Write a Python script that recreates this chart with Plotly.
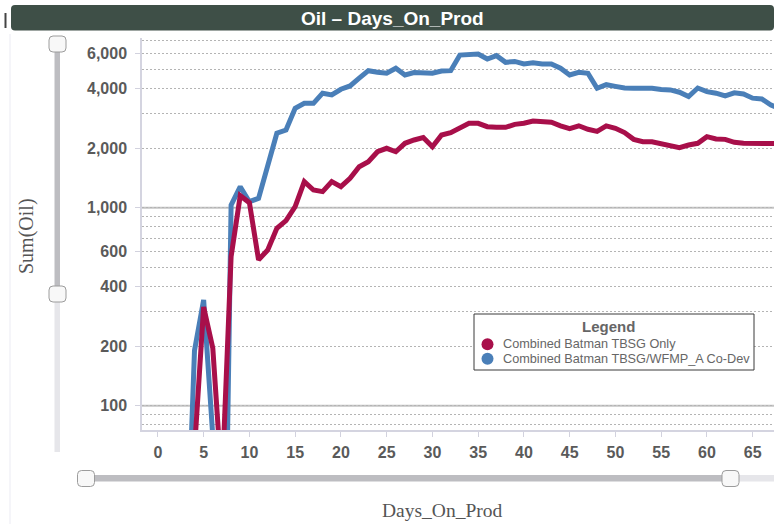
import plotly.graph_objects as go

# ---- data -------------------------------------------------------------
days_tbsg_only = list(range(4, 69))
oil_tbsg_only = [
    60, 315, 195, 40, 566, 1150, 1060, 545, 611, 787,
    860, 1012, 1353, 1228, 1205, 1353, 1276, 1407, 1610, 1707,
    1917, 1995, 1917, 2114, 2197, 2259, 2031, 2328, 2394, 2517,
    2668, 2668, 2565, 2545, 2545, 2636, 2668, 2741, 2720, 2700,
    2588, 2505, 2592, 2490, 2430, 2588, 2517, 2394, 2213, 2154,
    2154, 2114, 2051, 2010, 2072, 2114, 2285, 2224, 2213, 2138,
    2114, 2114, 2091, 2114, 2110,
]

days_codev = list(range(3, 69))
oil_codev = [
    10, 190, 342, 70, 1, 1030, 1276, 1072, 1115, 1663,
    2377, 2466, 3178, 3364, 3364, 3786, 3710, 3963, 4120, 4508,
    4920, 4830, 4775, 5060, 4680, 4810, 4775, 4775, 4900, 4920,
    5900, 5900, 5970, 5636, 5858, 5421, 5480, 5320, 5400, 5320,
    5320, 5060, 4680, 4830, 4775, 4010, 4180, 4100, 4020, 4010,
    4010, 4010, 3950, 3935, 3830, 3640, 4020, 3856, 3786, 3665,
    3800, 3750, 3574, 3540, 3300, 3150,
]

series_names = ["Combined Batman TBSG Only", "Combined Batman TBSG/WFMP_A Co-Dev"]
series_colors = ["#a80f4a", "#4a7fb8"]

x_ticks = [0, 5, 10, 15, 20, 25, 30, 35, 40, 45, 50, 55, 60, 65]
y_ticks = [100, 200, 400, 600, 1000, 2000, 4000, 6000]
y_tick_text = [f"{v:,}" for v in y_ticks]
y_minor = [80, 90, 300, 500, 700, 800, 900, 3000, 5000, 7000]
y_solid = [100, 1000]

# ---- page geometry ------------------------------------------------------
W, H = 774, 524
PL, PR, PT, PB = 142, 774, 38, 430


def px(x):
    return (x - PL) / (PR - PL)


def py(y):
    return (PB - y) / (PB - PT)


def rrect(w, h, r):
    x0, x1, y0, y1 = -w / 2, w / 2, -h / 2, h / 2
    return (f"M{x0 + r},{y0} L{x1 - r},{y0} Q{x1},{y0} {x1},{y0 + r} "
            f"L{x1},{y1 - r} Q{x1},{y1} {x1 - r},{y1} L{x0 + r},{y1} "
            f"Q{x0},{y1} {x0},{y1 - r} L{x0},{y0 + r} Q{x0},{y0} {x0 + r},{y0} Z")


def pixel_shape(cx, cy, path, fill, line_color=None, line_width=0, layer="above"):
    return dict(type="path", xref="paper", yref="paper",
                xsizemode="pixel", ysizemode="pixel",
                xanchor=px(cx), yanchor=py(cy), path=path,
                fillcolor=fill, layer=layer,
                line=dict(color=line_color or fill, width=line_width))


fig = go.Figure()

# co-dev series underneath, TBSG-only on top
fig.add_trace(go.Scatter(x=days_codev, y=oil_codev, mode="lines", name=series_names[1],
                         line=dict(color=series_colors[1], width=5), showlegend=False))
fig.add_trace(go.Scatter(x=days_tbsg_only, y=oil_tbsg_only, mode="lines", name=series_names[0],
                         line=dict(color=series_colors[0], width=5), showlegend=False))

shapes = []
# solid reference grid lines at the decades
for v in y_solid:
    shapes.append(dict(type="line", xref="paper", x0=0, x1=1, yref="y", y0=v, y1=v,
                       line=dict(color="#c4c4c4", width=2), layer="below"))

# title bar
shapes.append(pixel_shape(392.5, 17.75, rrect(763, 25.5, 4), "#3e4f47"))
shapes.append(dict(type="line", xref="paper", yref="paper",
                   x0=px(5.5), x1=px(5.5), y0=py(13), y1=py(28),
                   line=dict(color="#444444", width=2)))
shapes.append(dict(type="line", xref="paper", yref="paper",
                   x0=px(10), x1=px(10), y0=py(34), y1=py(524),
                   line=dict(color="#ebebf3", width=1)))

# vertical range slider
shapes.append(dict(type="rect", xref="paper", yref="paper",
                   x0=px(54.5), x1=px(60), y0=py(44), y1=py(294),
                   fillcolor="#bdbdc1", line=dict(width=0)))
shapes.append(dict(type="rect", xref="paper", yref="paper",
                   x0=px(54.5), x1=px(60), y0=py(294), y1=py(452),
                   fillcolor="#e6e6ea", line=dict(width=0)))
# horizontal range slider
shapes.append(dict(type="rect", xref="paper", yref="paper",
                   x0=px(86), x1=px(731), y0=py(475), y1=py(481.5),
                   fillcolor="#bdbdc1", line=dict(width=0)))
shapes.append(dict(type="rect", xref="paper", yref="paper",
                   x0=px(731), x1=px(774), y0=py(475), y1=py(481.5),
                   fillcolor="#e6e6ea", line=dict(width=0)))
for cx, cy in [(57.5, 44), (57.5, 294), (86, 478.5), (730.5, 478.5)]:
    shapes.append(pixel_shape(cx, cy, rrect(17, 16, 4), "#f8f8f8", "#9c9c9c", 1))

# legend box
shapes.append(dict(type="rect", xref="paper", yref="paper",
                   x0=px(474), x1=px(754), y0=py(314), y1=py(370),
                   fillcolor="white", line=dict(color="#3b3b3b", width=1), layer="above"))
legend_rows = [344.3, 358.8]
for name, color, cy in zip(series_names, series_colors, legend_rows):
    shapes.append(dict(type="circle", xref="paper", yref="paper",
                       xsizemode="pixel", ysizemode="pixel",
                       xanchor=px(487.5), yanchor=py(cy),
                       x0=-6, x1=6, y0=-6, y1=6,
                       fillcolor=color, line=dict(width=0), layer="above"))

annotations = [
    dict(text="<b>Oil – Days_On_Prod</b>", x=px(392.5), y=py(18), xref="paper", yref="paper",
         xanchor="center", yanchor="middle", showarrow=False,
         font=dict(family="Liberation Sans", size=19, color="white")),
    dict(text="Sum(Oil)", x=px(27), y=py(236), xref="paper", yref="paper",
         xanchor="center", yanchor="middle", showarrow=False, textangle=-90,
         font=dict(family="Liberation Serif", size=20, color="#555555")),
    dict(text="Days_On_Prod", x=px(442), y=py(510), xref="paper", yref="paper",
         xanchor="center", yanchor="middle", showarrow=False,
         font=dict(family="Liberation Serif", size=19.5, color="#555555")),
    dict(text="<b>Legend</b>", x=px(608), y=py(326), xref="paper", yref="paper",
         xanchor="center", yanchor="middle", showarrow=False,
         font=dict(family="Liberation Sans", size=15, color="#666666")),
]
for name, cy in zip(series_names, legend_rows):
    annotations.append(dict(text=name, x=px(501), y=py(cy), xref="paper", yref="paper",
                            xanchor="left", yanchor="middle", showarrow=False,
                            font=dict(family="Liberation Sans", size=12.7, color="#666666")))

tick_font = dict(family="Liberation Sans", size=16, color="#5a5a5a", weight="bold")

fig.update_layout(
    width=W, height=H,
    margin=dict(l=PL, r=W - PR, t=PT, b=H - PB, pad=0),
    paper_bgcolor="white", plot_bgcolor="white",
    showlegend=False,
    shapes=shapes, annotations=annotations,
    xaxis=dict(range=[(PL - 157.9) / 9.15, (PR - 157.9) / 9.15],
               tickvals=x_ticks, ticks="outside", ticklen=5, tickcolor="#d2d2de",
               showline=True, linecolor="#d4d4e0", linewidth=1.5,
               showgrid=False, zeroline=False, tickfont=tick_font,
               ticklabelstandoff=2),
    yaxis=dict(type="log", range=[1.877, 3.857],
               tickvals=y_ticks, ticktext=y_tick_text,
               ticks="outside", ticklen=5, tickcolor="#d2d2de",
               showline=True, linecolor="#d4d4e0", linewidth=1.5,
               showgrid=True, gridcolor="#b4b4b4", griddash="2px,2px", gridwidth=1,
               minor=dict(tickvals=y_minor, showgrid=True, gridcolor="#b4b4b4",
                          griddash="2px,2px", gridwidth=1, ticks=""),
               zeroline=False, tickfont=tick_font, ticklabelstandoff=5),
)

fig.write_html("out.html")
